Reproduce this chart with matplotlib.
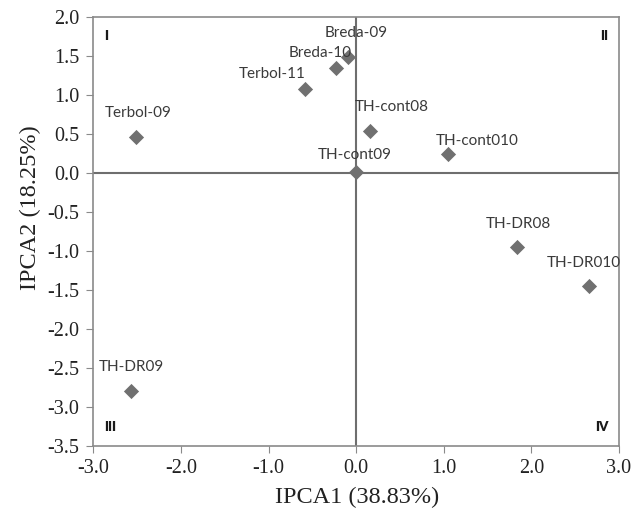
import matplotlib
matplotlib.use("Agg")
import matplotlib.pyplot as plt

plt.rcParams["axes.unicode_minus"] = False

names = ["Breda-09", "Breda-10", "Terbol-11", "Terbol-09", "TH-cont08",
         "TH-cont010", "TH-cont09", "TH-DR08", "TH-DR010", "TH-DR09"]
ipca1 = [-0.09, -0.23, -0.58, -2.51, 0.16, 1.05, 0.00, 1.84, 2.66, -2.57]
ipca2 = [1.49, 1.35, 1.07, 0.46, 0.53, 0.24, 0.01, -0.95, -1.45, -2.80]
xticks = [-3.0, -2.0, -1.0, 0.0, 1.0, 2.0, 3.0]
yticks = [2.0, 1.5, 1.0, 0.5, 0.0, -0.5, -1.0, -1.5, -2.0, -2.5, -3.0, -3.5]
quadrants = ["I", "II", "III", "IV"]

# label offsets in pixels (layout only)
offsets = {"Breda-09": (8, 24), "Breda-10": (-16, 15), "Terbol-11": (-33, 15),
           "Terbol-09": (2, 24), "TH-cont08": (22, 24), "TH-cont010": (29, 13),
           "TH-cont09": (-1, 17), "TH-DR08": (1, 23), "TH-DR010": (-5, 23),
           "TH-DR09": (0, 24)}

fig = plt.figure(figsize=(6.31, 5.11), dpi=100)
ax = fig.add_axes([0.148, 0.128, 0.833, 0.839])
ax.set_xlim(-3, 3)
ax.set_ylim(-3.5, 2.0)

ax.axhline(0, color="#6e6e6e", lw=1.5, zorder=1)
ax.axvline(0, color="#6e6e6e", lw=1.5, zorder=1)
ax.scatter(ipca1, ipca2, marker="D", s=60, color="#707070", zorder=3, linewidths=0)

lab_font = ["Lato", "DejaVu Sans"]
for n, x, y in zip(names, ipca1, ipca2):
    dx, dy = offsets[n]
    ax.annotate(n, (x, y), xytext=(dx, dy), textcoords="offset pixels",
                ha="center", va="center", fontsize=11, color="#3a3a3a",
                family=lab_font, zorder=4)

qpos = [(0.02, 0.97, "left", "top"), (0.98, 0.97, "right", "top"),
        (0.02, 0.03, "left", "bottom"), (0.98, 0.03, "right", "bottom")]
for q, (qx, qy, ha, va) in zip(quadrants, qpos):
    ax.text(qx, qy, q, transform=ax.transAxes, ha=ha, va=va, fontsize=9.5,
            fontweight="heavy", family=lab_font, color="#1a1a1a")

ax.set_xticks(xticks)
ax.set_yticks(yticks)
ax.set_xticklabels([f"{v:.1f}" for v in xticks])
ax.set_yticklabels([f"{v:.1f}" for v in yticks])
for sp in ax.spines.values():
    sp.set_color("#8a8a8a")
    sp.set_linewidth(1.2)
ax.tick_params(direction="out", length=5, color="#8a8a8a", labelsize=14.5,
               labelcolor="#222222", pad=5)
for t in ax.get_xticklabels() + ax.get_yticklabels():
    t.set_family("Liberation Serif")

ax.set_xlabel("IPCA1 (38.83%)", fontsize=17.5, family="Liberation Serif",
              color="#222222")
ax.set_ylabel("IPCA2 (18.25%)", fontsize=17.5, family="Liberation Serif",
              color="#222222")
ax.xaxis.set_label_coords(0.502, -0.097)
ax.yaxis.set_label_coords(-0.10, 0.556)

fig.savefig("out.png", dpi=100)
